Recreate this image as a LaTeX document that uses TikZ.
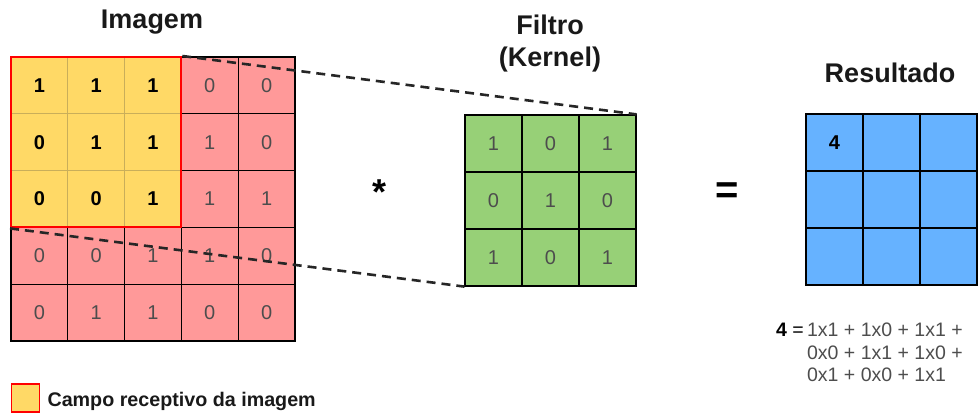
\documentclass[tikz,border=0pt]{standalone}
\usepackage{fontspec}
\setmainfont{Liberation Sans}
\definecolor{rosa}{HTML}{FF9999}
\definecolor{amarillo}{HTML}{FFD966}
\definecolor{verde}{HTML}{97D077}
\definecolor{azul}{HTML}{66B2FF}
\definecolor{gris}{HTML}{4D4D4D}
\definecolor{borde}{HTML}{C9AE5A}
\begin{document}
\begin{tikzpicture}[x=1pt, y=-1pt,
    celda/.style={draw, line width=1.2pt, minimum size=\lado*1pt, inner sep=0pt,
        text=gris, font=\fontsize{20}{24}\selectfont},
    fuera/.style={celda, fill=rosa},
    dentro/.style={celda, fill=amarillo, draw=borde, text=black, font=\fontsize{20}{24}\selectfont\bfseries},
    titulo/.style={font=\fontsize{27}{32}\selectfont\bfseries, align=center, text=black!90},
    guia/.style={line width=2.6pt, dash pattern=on 9pt off 6pt, black!85}]
        % Parámetros
        \def\lado{56.8}   % Lado de cada celda
        \useasboundingbox (0,0) rectangle (978,415);

        % Imagen de entrada (5x5)
        \foreach \v [count=\i from 0] in {1,1,1,0,0, 0,1,1,1,0, 0,0,1,1,1, 0,0,1,1,0, 0,1,1,0,0} {
            \pgfmathtruncatemacro\f{floor(\i/5)}
            \pgfmathtruncatemacro\k{mod(\i,5)}
            \ifnum\f<3 \ifnum\k<3 \def\estilo{dentro}\else\def\estilo{fuera}\fi \else\def\estilo{fuera}\fi
            \node[\estilo] (img-\f-\k) at ({11+(\k+0.5)*\lado}, {57+(\f+0.5)*\lado}) {\v};
        }

        % Campo receptivo
        \node[draw=red, line width=2pt, minimum size=3*\lado*1pt, inner sep=0pt] (campo) at (img-1-1) {};

        % Filtro (3x3)
        \foreach \v [count=\i from 0] in {1,0,1, 0,1,0, 1,0,1} {
            \pgfmathtruncatemacro\f{floor(\i/3)}
            \pgfmathtruncatemacro\k{mod(\i,3)}
            \node[celda, fill=verde, minimum size=57pt] (ker-\f-\k) at ({465+(\k+0.5)*57}, {115+(\f+0.5)*57}) {\v};
        }

        % Resultado (3x3)
        \foreach \f in {0,1,2}
            \foreach \k in {0,1,2}
                \node[celda, fill=azul, minimum size=57pt] (res-\f-\k) at ({806+(\k+0.5)*57}, {114+(\f+0.5)*57}) {};
        \node[font=\fontsize{20}{24}\selectfont\bfseries] (cuatro) at (res-0-0) {4};

        % Líneas discontinuas hacia el filtro
        \draw[guia] (campo.north east) -- (ker-0-2.north east);
        \draw[guia] (campo.south west) -- (ker-2-0.south west);

        % Títulos
        \node[titulo] (t-img) at (152,22) {Imagem};
        \node[titulo] (t-fil) at (550,44) {Filtro\\(Kernel)};
        \node[titulo] (t-res) at (890,73) {Resultado};

        % Operadores
        \node[font=\fontsize{36}{40}\selectfont\bfseries] (conv) at (380,192) {*};
        \node[font=\fontsize{40}{44}\selectfont\bfseries] (igual) at (727,193) {=};

        % Cálculo del primer valor
        \node[anchor=north west, inner sep=0pt, text=gris, font=\fontsize{19.5}{22.5}\selectfont] (calc) at (776,321)
            {\begin{tabular}{@{}r@{\,}l@{}}\textcolor{black}{\textbf{4} =} & 1x1 + 1x0 + 1x1 +\\ & 0x0 + 1x1 + 1x0 +\\ & 0x1 + 0x0 + 1x1\end{tabular}};

        % Leyenda
        \node[draw=red, line width=1.5pt, fill=amarillo, minimum size=28pt, inner sep=0pt] (leyenda) at (25.5,398) {};
        \node[anchor=west, font=\fontsize{19.7}{22}\selectfont\bfseries, text=black!90] (t-ley) at (44,401) {Campo receptivo da imagem};
    \end{tikzpicture}
\end{document}
